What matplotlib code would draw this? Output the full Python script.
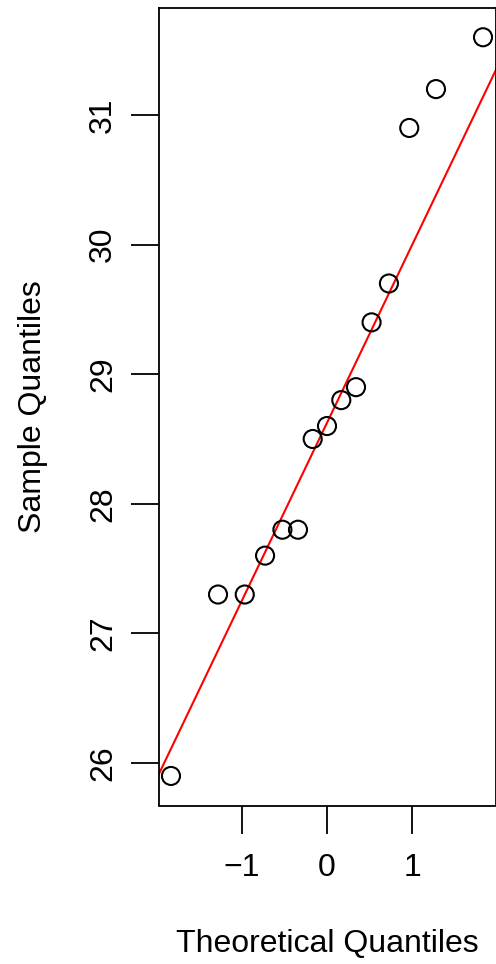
import numpy as np
import matplotlib
matplotlib.use("Agg")
import matplotlib.pyplot as plt
from matplotlib.transforms import blended_transform_factory

plt.rcParams['font.family'] = ['Liberation Sans', 'DejaVu Sans']

# Data (sorted sample values) and their theoretical normal quantiles
sample = [25.9, 27.3, 27.3, 27.6, 27.8, 27.8, 28.5, 28.6, 28.8, 28.9,
          29.4, 29.7, 30.9, 31.2, 31.6]
theoretical = [-1.834, -1.281, -0.967, -0.728, -0.524, -0.341, -0.168, 0.0,
               0.168, 0.341, 0.524, 0.728, 0.967, 1.281, 1.834]
x_ticks = [-1, 0, 1]
y_ticks = [26, 27, 28, 29, 30, 31]

# qqline through first and third quartiles
y = np.array(sample)
q1, q3 = np.percentile(y, [25, 75])
z1, z3 = -0.6744898, 0.6744898
slope = (q3 - q1) / (z3 - z1)
intercept = q1 - slope * z1

W, H = 496, 964
fig = plt.figure(figsize=(W / 100, H / 100), dpi=100)
ax = fig.add_axes([158.5 / W, 1 - 805.5 / H, (495.5 - 158.5) / W, (805.5 - 7.7) / H])

xr = max(theoretical) - min(theoretical)
yr = max(sample) - min(sample)
xlim = (min(theoretical) - 0.04 * xr, max(theoretical) + 0.04 * xr)
ylim = (min(sample) - 0.04 * yr, max(sample) + 0.04 * yr)

ax.scatter(theoretical, sample, s=13 ** 2, facecolors='none', edgecolors='black',
           linewidths=1.5, zorder=3, clip_on=False)
xx = np.array([xlim[0] - 1, xlim[1] + 1])
ax.plot(xx, intercept + slope * xx, color='red', lw=1.5, zorder=2)
ax.set_xlim(xlim)
ax.set_ylim(ylim)

FS = 23
ax.set_xticks(x_ticks)
ax.set_xticklabels(['\u22121', '0', '1'])
ax.set_yticks(y_ticks)
ax.set_yticklabels([str(t) for t in y_ticks], rotation=90, va='center')
ax.tick_params(axis='both', length=20, width=1.3, labelsize=FS, color='black')
ax.tick_params(axis='x', pad=14)
ax.tick_params(axis='y', pad=9)
for sp in ax.spines.values():
    sp.set_linewidth(1.3)

ax.set_xlabel('Theoretical Quantiles', fontsize=FS)
ax.set_ylabel('Sample Quantiles', fontsize=FS)
ax.xaxis.set_label_coords(0.5, 1 - 952 / H,
                          transform=blended_transform_factory(ax.transAxes, fig.transFigure))
ax.xaxis.label.set_va('baseline')
ax.yaxis.set_label_coords(41 / W, 0.5,
                          transform=blended_transform_factory(fig.transFigure, ax.transAxes))
ax.yaxis.label.set_va('baseline')

fig.savefig('out.png', dpi=100)
